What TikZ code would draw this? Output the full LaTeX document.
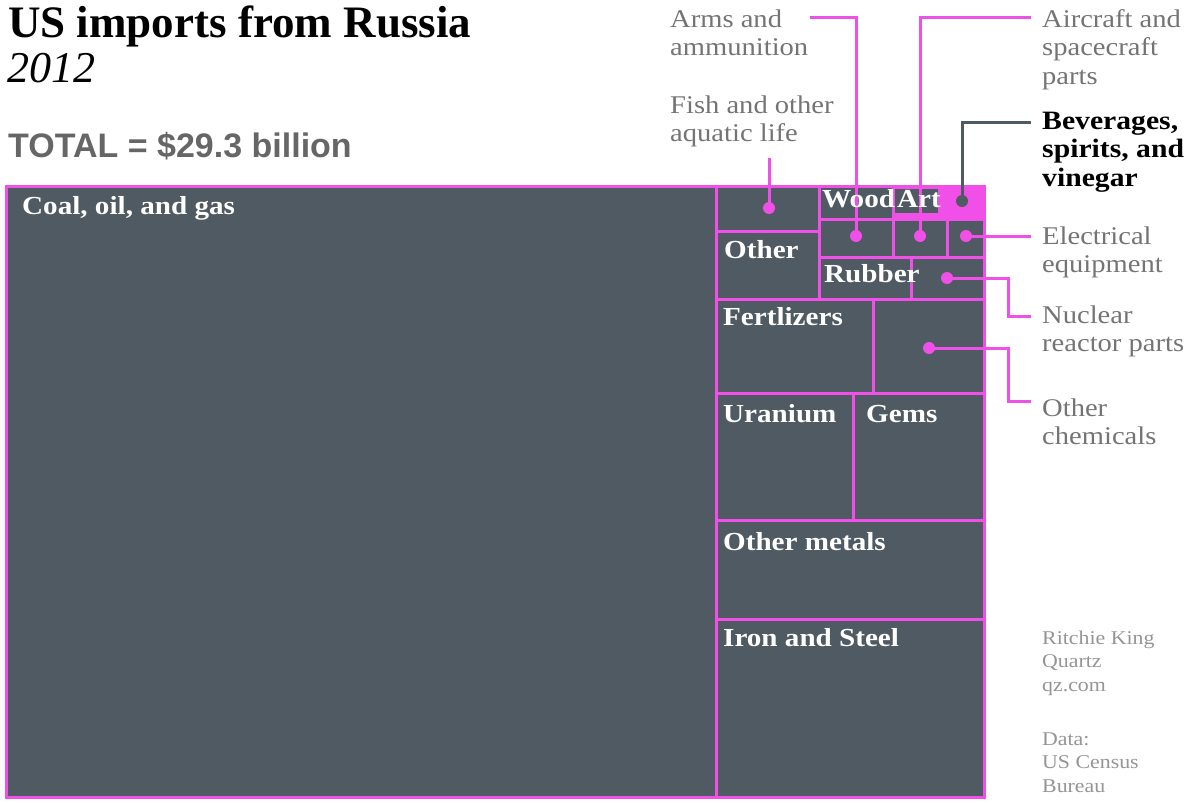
\documentclass[tikz,border=0pt]{standalone}
\usepackage{fontspec}
\setmainfont{Liberation Serif}[FakeStretch=1.12]
\newfontfamily\headfont{Liberation Serif}
\newfontfamily\totalfont{Liberation Sans}
\usetikzlibrary{positioning}

\definecolor{qzslate}{HTML}{505A63}
\definecolor{qzpink}{HTML}{F050E8}
\definecolor{qzlabel}{HTML}{747474}
\definecolor{qzcredit}{HTML}{959595}
\definecolor{qztotal}{HTML}{666666}

\tikzset{
  cell/.style={draw=qzpink, line width=3pt, fill=qzslate},
  celltext/.style={anchor=base west, inner sep=0pt, text=white, font=\bfseries\fontsize{26}{30}\selectfont},
  callout/.style={anchor=north west, inner sep=0pt, align=left, text=qzlabel, font=\fontsize{25.5}{28.5}\selectfont},
  lead/.style={qzpink, line width=3pt},
}

\begin{document}
\begin{tikzpicture}[x=1pt, y=-1pt]
  \useasboundingbox (0,0) rectangle (1200,803);

  % heading
  \node[anchor=base west, inner sep=0pt, font=\headfont\bfseries\fontsize{45}{50}\selectfont] (title) at (8,37) {US imports from Russia};
  \node[anchor=base west, inner sep=0pt, font=\headfont\itshape\fontsize{44}{50}\selectfont] (year) at (7,82) {2012};
  \node[anchor=base west, inner sep=0pt, text=qztotal, font=\totalfont\bfseries\fontsize{34}{40}\selectfont] (total) at (8,157) {TOTAL = \$29.3 billion};

  % treemap cells
  \draw[cell] (6,186) rectangle (716,797);
  \draw[cell] (716,186) rectangle (819,231);
  \draw[cell] (716,231) rectangle (819,299);
  \draw[cell] (819,186) rectangle (893,219);
  \draw[cell, fill=qzpink] (893,186) rectangle (984,219);
  \fill[qzslate] (895,189) rectangle (938,213);
  \draw[cell] (819,219) rectangle (893,257);
  \draw[cell] (893,219) rectangle (947,257);
  \draw[cell] (947,219) rectangle (984,257);
  \draw[cell] (819,257) rectangle (911,299);
  \draw[cell] (911,257) rectangle (984,299);
  \draw[cell] (716,299) rectangle (873,393);
  \draw[cell] (873,299) rectangle (984,393);
  \draw[cell] (716,393) rectangle (853,520);
  \draw[cell] (853,393) rectangle (984,520);
  \draw[cell] (716,520) rectangle (984,619);
  \draw[cell] (716,619) rectangle (984,797);

  % dots and free ends
  \coordinate (fishdot) at (769,208);
  \coordinate (armsdot) at (856,236);
  \coordinate (airdot) at (920,236);
  \coordinate (elecdot) at (966,236);
  \coordinate (bevdot) at (962,201);
  \coordinate (nucdot) at (947,278);
  \coordinate (chemdot) at (929,348);
  \coordinate (fishend) at (769,158);
  \coordinate (armsend) at (810,17);
  \coordinate (airend) at (1031,17);
  \coordinate (bevend) at (1031,122);
  \coordinate (elecend) at (1031,236);
  \coordinate (nucend) at (1031,316);
  \coordinate (chemend) at (1031,401);

  % connectors
  \draw[lead] (fishend) -- (fishdot);
  \draw[lead] (armsend) -| (armsdot);
  \draw[lead] (airend) -| (airdot);
  \draw[qzslate, line width=3pt] (bevend) -| (bevdot);
  \draw[lead] (elecdot) -- (elecend);
  \draw[lead] (nucdot) -- (1008,278) |- (nucend);
  \draw[lead] (chemdot) -- (1008,348) |- (chemend);
  \foreach \d in {fishdot,armsdot,airdot,elecdot,nucdot,chemdot}
    \fill[qzpink] (\d) circle (6pt);
  \fill[qzslate] (bevdot) circle (6pt);

  % cell labels
  \node[celltext] (coal) at (22,214) {Coal, oil, and gas};
  \node[celltext] (other) at (724,258) {Other};
  \node[celltext] (wood) at (822,207) {Wood};
  \node[celltext] (art) at (897,207) {Art};
  \node[celltext] (rubber) at (824,282) {Rubber};
  \node[celltext] (fert) at (723,325) {Fertlizers};
  \node[celltext] (uran) at (723,422) {Uranium};
  \node[celltext] (gems) at (866,422) {Gems};
  \node[celltext] (metals) at (723,550) {Other metals};
  \node[celltext] (iron) at (723,646) {Iron and Steel};

  % callouts
  \node[callout] (arms) at (670,7) {\strut Arms and\\ammunition};
  \node[callout] (fish) at (670,93) {\strut Fish and other\\aquatic life};
  \node[callout] (air) at (1042,7) {\strut Aircraft and\\spacecraft\\parts};
  \node[callout, text=black, font=\bfseries\fontsize{26.5}{28.5}\selectfont] (bev) at (1042,109) {\strut Beverages,\\spirits, and\\vinegar};
  \node[callout] (elec) at (1042,224) {\strut Electrical\\equipment};
  \node[callout] (nuc) at (1042,303) {\strut Nuclear\\reactor parts};
  \node[callout] (chem) at (1042,396) {\strut Other\\chemicals};

  % credits
  \node[anchor=north west, inner sep=0pt, align=left, text=qzcredit, font=\fontsize{19.5}{23.5}\selectfont] (credit) at (1042,627.5)
    {\strut Ritchie King\\Quartz\\qz.com\\[30.5pt]Data:\\US Census\\Bureau};
\end{tikzpicture}
\end{document}
